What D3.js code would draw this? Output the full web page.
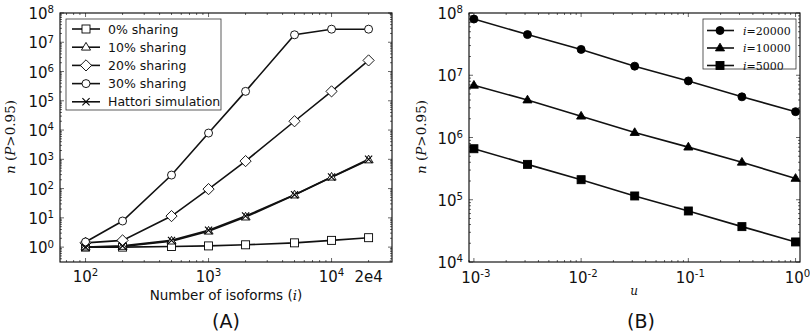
<!DOCTYPE html>
<html>
<head>
<meta charset="utf-8">
<script src="https://cdn.jsdelivr.net/npm/d3@7"></script>
<style>
  body { margin: 0; background: #fff; }
  svg { font-family: "DejaVu Sans", sans-serif; }
</style>
</head>
<body>
<div id="chart"></div>
<script>
// panel A data
var isoforms = [100, 200, 500, 1000, 2000, 5000, 10000, 20000];
var share0  = [1.0, 1.0, 1.05, 1.1, 1.2, 1.4, 1.7, 2.1];
var share10 = [1.0, 1.05, 1.6, 3.5, 10.6, 60, 245, 950];
var share20 = [1.4, 1.7, 11.5, 96, 870, 20000, 210000, 2400000];
var share30 = [1.5, 7.8, 290, 7900, 210000, 18000000, 28000000, 28000000];
var hattori = [1.0, 1.1, 1.7, 3.8, 11.5, 62, 250, 1000];
var seriesA = [
  {name: "0% sharing", marker: "square", values: share0},
  {name: "10% sharing", marker: "triangle", values: share10},
  {name: "20% sharing", marker: "diamond", values: share20},
  {name: "30% sharing", marker: "circle", values: share30},
  {name: "Hattori simulation", marker: "x", values: hattori}
];
var xTicksA = [100, 1000, 10000, 20000];

// panel B data
var uVals = [0.001, 0.00316, 0.01, 0.0316, 0.1, 0.316, 1];
var i20000 = [80000000, 45000000, 26000000, 14000000, 8100000, 4500000, 2600000];
var i10000 = [6900000, 4000000, 2200000, 1200000, 700000, 400000, 220000];
var i5000  = [660000, 370000, 210000, 115000, 66000, 37000, 21000];
var seriesB = [
  {name: "20000", marker: "circle", values: i20000},
  {name: "10000", marker: "triangle", values: i10000},
  {name: "5000", marker: "square", values: i5000}
];

var W = 810, H = 335;
var svg = d3.select("#chart").append("svg").attr("width", W).attr("height", H);

function drawMarker(g, type, filled, s) {
  var fill = filled ? "#000" : "#fff";
  var p;
  if (type == "square") {
    p = g.append("rect").attr("x", -s/2).attr("y", -s/2).attr("width", s).attr("height", s);
  } else if (type == "circle") {
    p = g.append("circle").attr("r", s/2);
  } else if (type == "diamond") {
    var d = s * 0.7;
    p = g.append("path").attr("d", "M0," + (-d) + "L" + d + ",0L0," + d + "L" + (-d) + ",0Z");
  } else if (type == "triangle") {
    var t = s * 0.6;
    p = g.append("path").attr("d", "M0," + (-t) + "L" + (t*0.95) + "," + (t*0.6) + "L" + (-t*0.95) + "," + (t*0.6) + "Z");
  } else {
    var e = s * 0.45;
    g.append("path").attr("d", "M" + (-e) + "," + (-e) + "L" + e + "," + e + "M" + (-e) + "," + e + "L" + e + "," + (-e))
      .attr("stroke", "#000").attr("stroke-width", 1.1).attr("fill", "none");
    return;
  }
  p.attr("fill", fill).attr("stroke", "#000").attr("stroke-width", 0.9);
}

function powLabel(sel, base, exp) {
  sel.append("tspan").text(base);
  sel.append("tspan").attr("dy", "-0.55em").style("font-size", "0.68em").text(exp);
}

function frame(g, x, y, w, h) {
  // minor + major ticks on all sides, inward
  var xMinor = x.ticks().filter(function (v) { return v >= x.domain()[0] && v <= x.domain()[1]; });
  var yMinor = y.ticks().filter(function (v) { return v >= y.domain()[0] && v <= y.domain()[1]; });
  var isMajor = function (v) { return Math.abs(Math.log10(v) - Math.round(Math.log10(v))) < 1e-6; };
  var tk = g.append("g").attr("stroke", "#000").attr("stroke-width", 0.6);
  xMinor.forEach(function (v) {
    var len = isMajor(v) ? 4 : 2, px = x(v);
    tk.append("line").attr("x1", px).attr("x2", px).attr("y1", h).attr("y2", h - len);
    tk.append("line").attr("x1", px).attr("x2", px).attr("y1", 0).attr("y2", len);
  });
  yMinor.forEach(function (v) {
    var len = isMajor(v) ? 4 : 2, py = y(v);
    tk.append("line").attr("x1", 0).attr("x2", len).attr("y1", py).attr("y2", py);
    tk.append("line").attr("x1", w).attr("x2", w - len).attr("y1", py).attr("y2", py);
  });
  g.append("rect").attr("width", w).attr("height", h).attr("fill", "none")
    .attr("stroke", "#000").attr("stroke-width", 1.1);
}

function yLabels(g, y, pows) {
  pows.forEach(function (k) {
    var t = g.append("text").attr("x", -6).attr("y", y(Math.pow(10, k)) + 6)
      .attr("text-anchor", "end").style("font-size", "15px").attr("fill", "#111");
    powLabel(t, "10", k);
  });
}

function yTitle(g, cx, cy) {
  var t = g.append("text").attr("transform", "translate(" + cx + "," + cy + ") rotate(-90)")
    .attr("text-anchor", "middle").style("font-size", "13.5px")
    .style("font-family", "'DejaVu Serif', serif").attr("fill", "#111");
  t.append("tspan").style("font-style", "italic").text("n");
  t.append("tspan").text(" (");
  t.append("tspan").style("font-style", "italic").text("P");
  t.append("tspan").text(">0.95)");
}

// ---------- panel A ----------
var mA = {left: 60, top: 13}, wA = 332, hA = 249;
var gA = svg.append("g").attr("transform", "translate(" + mA.left + "," + mA.top + ")");
var xA = d3.scaleLog().domain([62, 31000]).range([0, wA]);
var yA = d3.scaleLog().domain([0.31, 1e8]).range([hA, 0]);

frame(gA, xA, yA, wA, hA);
yLabels(gA, yA, d3.range(0, 9));

xTicksA.forEach(function (v) {
  var t = gA.append("text").attr("x", xA(v)).attr("y", hA + 20)
    .attr("text-anchor", "middle").style("font-size", "15px").attr("fill", "#111");
  if (v == 20000) t.text("2e4");
  else powLabel(t, "10", Math.round(Math.log10(v)));
});

var lineA = d3.line().x(function (d) { return xA(d[0]); }).y(function (d) { return yA(d[1]); });
seriesA.forEach(function (s) {
  var pts = isoforms.map(function (v, i) { return [v, s.values[i]]; });
  gA.append("path").datum(pts).attr("d", lineA).attr("fill", "none")
    .attr("stroke", "#111").attr("stroke-width", 1.6);
});
seriesA.forEach(function (s) {
  isoforms.forEach(function (v, i) {
    var mg = gA.append("g").attr("transform", "translate(" + xA(v) + "," + yA(s.values[i]) + ")");
    drawMarker(mg, s.marker, false, 8);
  });
});

// legend A
var legA = svg.append("g").attr("transform", "translate(66,19)");
legA.append("rect").attr("width", 155).attr("height", 91).attr("fill", "#fff")
  .attr("stroke", "#333").attr("stroke-width", 0.8);
seriesA.forEach(function (s, i) {
  var ly = 10 + i * 18.2;
  legA.append("line").attr("x1", 6).attr("x2", 34).attr("y1", ly).attr("y2", ly)
    .attr("stroke", "#111").attr("stroke-width", 1.6);
  drawMarker(legA.append("g").attr("transform", "translate(20," + ly + ")"), s.marker, false, 8);
  legA.append("text").attr("x", 42).attr("y", ly + 4.5).style("font-size", "12.5px")
    .attr("fill", "#111").text(s.name);
});

yTitle(svg, 15, 137);
var xtA = svg.append("text").attr("x", 226).attr("y", 300).attr("text-anchor", "middle")
  .style("font-size", "13.5px").attr("fill", "#111");
xtA.append("tspan").text("Number of isoforms (");
xtA.append("tspan").style("font-family", "'DejaVu Serif', serif").style("font-style", "italic").text("i");
xtA.append("tspan").text(")");
svg.append("text").attr("x", 226).attr("y", 328).attr("text-anchor", "middle")
  .style("font-size", "19px").attr("fill", "#111").text("(A)");

// ---------- panel B ----------
var mB = {left: 469, top: 13}, wB = 331, hB = 249;
var gB = svg.append("g").attr("transform", "translate(" + mB.left + "," + mB.top + ")");
var xB = d3.scaleLog().domain([0.0009, 1.1]).range([0, wB]);
var yB = d3.scaleLog().domain([1e4, 1e8]).range([hB, 0]);

frame(gB, xB, yB, wB, hB);
yLabels(gB, yB, d3.range(4, 9));
[-3, -2, -1, 0].forEach(function (k) {
  var t = gB.append("text").attr("x", xB(Math.pow(10, k)) + 2).attr("y", hB + 21)
    .attr("text-anchor", "middle").style("font-size", "15px").attr("fill", "#111");
  powLabel(t, "10", k);
});

var lineB = d3.line().x(function (d) { return xB(d[0]); }).y(function (d) { return yB(d[1]); });
seriesB.forEach(function (s) {
  var pts = uVals.map(function (v, i) { return [v, s.values[i]]; });
  gB.append("path").datum(pts).attr("d", lineB).attr("fill", "none")
    .attr("stroke", "#111").attr("stroke-width", 1.6);
  pts.forEach(function (p) {
    drawMarker(gB.append("g").attr("transform", "translate(" + xB(p[0]) + "," + yB(p[1]) + ")"),
      s.marker, true, 8);
  });
});

// legend B
var legB = svg.append("g").attr("transform", "translate(703,19)");
legB.append("rect").attr("width", 93).attr("height", 50).attr("fill", "#fff")
  .attr("stroke", "#333").attr("stroke-width", 0.8);
seriesB.forEach(function (s, i) {
  var ly = 11.5 + i * 17.5;
  legB.append("line").attr("x1", 4).attr("x2", 31).attr("y1", ly).attr("y2", ly)
    .attr("stroke", "#111").attr("stroke-width", 1.6);
  drawMarker(legB.append("g").attr("transform", "translate(17," + ly + ")"), s.marker, true, 8);
  var t = legB.append("text").attr("x", 40).attr("y", ly + 4).style("font-size", "11px")
    .style("font-family", "'DejaVu Serif', serif").attr("fill", "#111");
  t.append("tspan").style("font-style", "italic").text("i");
  t.append("tspan").text("=" + s.name);
});

yTitle(svg, 426, 137);
svg.append("text").attr("x", 634).attr("y", 295).attr("text-anchor", "middle")
  .style("font-size", "12px").style("font-family", "'DejaVu Serif', serif")
  .style("font-style", "italic").attr("fill", "#111").text("u");
svg.append("text").attr("x", 641).attr("y", 328).attr("text-anchor", "middle")
  .style("font-size", "19px").attr("fill", "#111").text("(B)");
</script>
</body>
</html>
